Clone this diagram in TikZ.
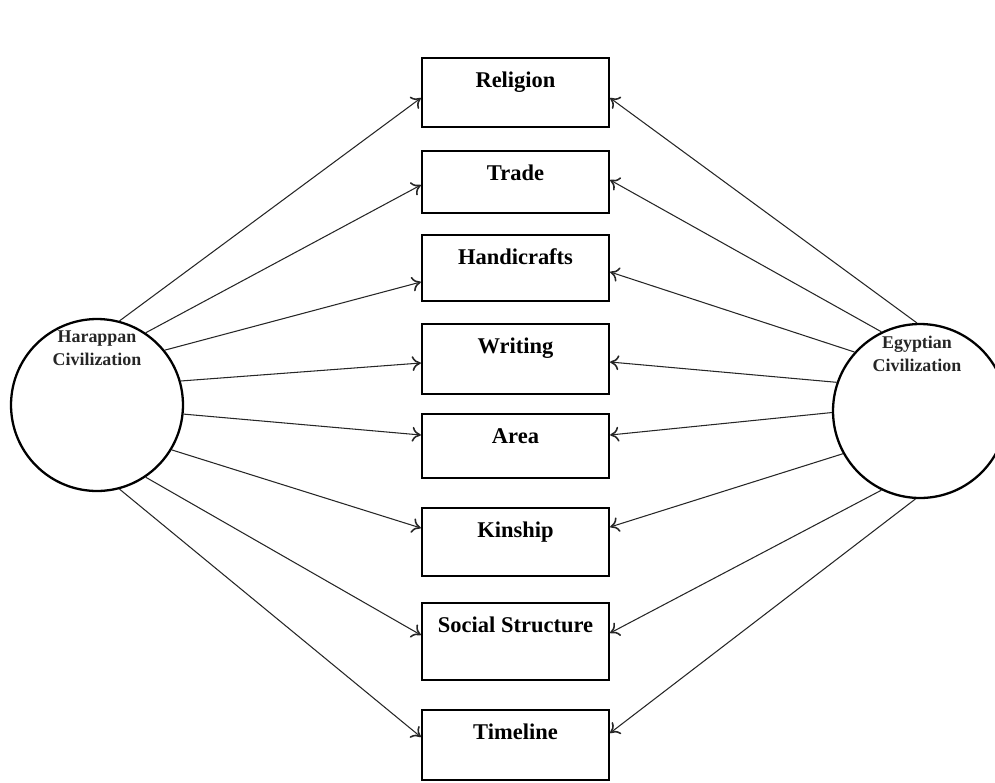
\documentclass[tikz,border=0pt]{standalone}
\usepackage{fontspec}
\setmainfont{Liberation Serif}
\usetikzlibrary{arrows.meta}

\begin{document}
\begin{tikzpicture}[x=0.02cm, y=-0.02cm, >={To[length=5pt,width=8.5pt,line width=0.9pt]}]
\tikzset{topic/.style={draw, line width=1.3pt, minimum width=3.74cm, text height=0.32cm,
                       inner ysep=0.26cm, inner xsep=0pt, font=\fontsize{12.8}{15}\selectfont\bfseries},
         civ/.style={draw, circle, line width=1.3pt, inner sep=0pt},
         civtext/.style={align=center, text=black!85, font=\fontsize{10.2}{13}\selectfont\bfseries},
         link/.style={->, line width=0.6pt, black!85}}

\useasboundingbox (0,0) rectangle (995,782);

\node[topic, text depth=0.54cm] (religion)  at (515.5, 92.5) {Religion};
\node[topic, text depth=0.40cm] (trade)     at (515.5,182)   {Trade};
\node[topic, text depth=0.48cm] (handicraft) at (515.5,268)  {Handicrafts};
\node[topic, text depth=0.56cm] (writing)   at (515.5,359)   {Writing};
\node[topic, text depth=0.44cm] (area)      at (515.5,446)   {Area};
\node[topic, text depth=0.52cm] (kinship)   at (515.5,542)   {Kinship};
\node[topic, text depth=0.70cm] (social)    at (515.5,641.5) {Social Structure};
\node[topic, text depth=0.56cm] (timeline)  at (515.5,745)   {Timeline};

\node[civ, minimum size=3.44cm] (harappan) at (97,405)  {};
\node[civ, minimum size=3.48cm] (egyptian) at (920,411) {};
\node[civtext] (harappan-text) at (97,348)  {Harappan\\Civilization};
\node[civtext] (egyptian-text) at (917,354) {Egyptian\\Civilization};

\draw[link] (harappan.75)  -- ([yshift=-0.11cm]religion.west);
\draw[link] (harappan.56)  -- ([yshift=-0.06cm]trade.west);
\draw[link] (harappan.39)  -- ([yshift=-0.28cm]handicraft.west);
\draw[link] (harappan.16)  -- ([yshift=-0.08cm]writing.west);
\draw[link] (harappan.-6)  -- ([yshift=0.22cm]area.west);
\draw[link] (harappan.-31) -- ([yshift=0.28cm]kinship.west);
\draw[link] (harappan.-56) -- ([yshift=0.13cm]social.west);
\draw[link] (harappan.-75) -- ([yshift=0.16cm]timeline.west);

\draw[link] (egyptian.92)  -- ([yshift=-0.11cm]religion.east);
\draw[link] (egyptian.116) -- ([yshift=0.04cm]trade.east);
\draw[link] (egyptian.138) -- ([yshift=-0.08cm]handicraft.east);
\draw[link] (egyptian.161) -- ([yshift=-0.06cm]writing.east);
\draw[link] (egyptian.181) -- ([yshift=0.22cm]area.east);
\draw[link] (egyptian.209) -- ([yshift=0.30cm]kinship.east);
\draw[link] (egyptian.244) -- ([yshift=0.17cm]social.east);
\draw[link] (egyptian.267) -- ([yshift=0.24cm]timeline.east);

\end{tikzpicture}
\end{document}
